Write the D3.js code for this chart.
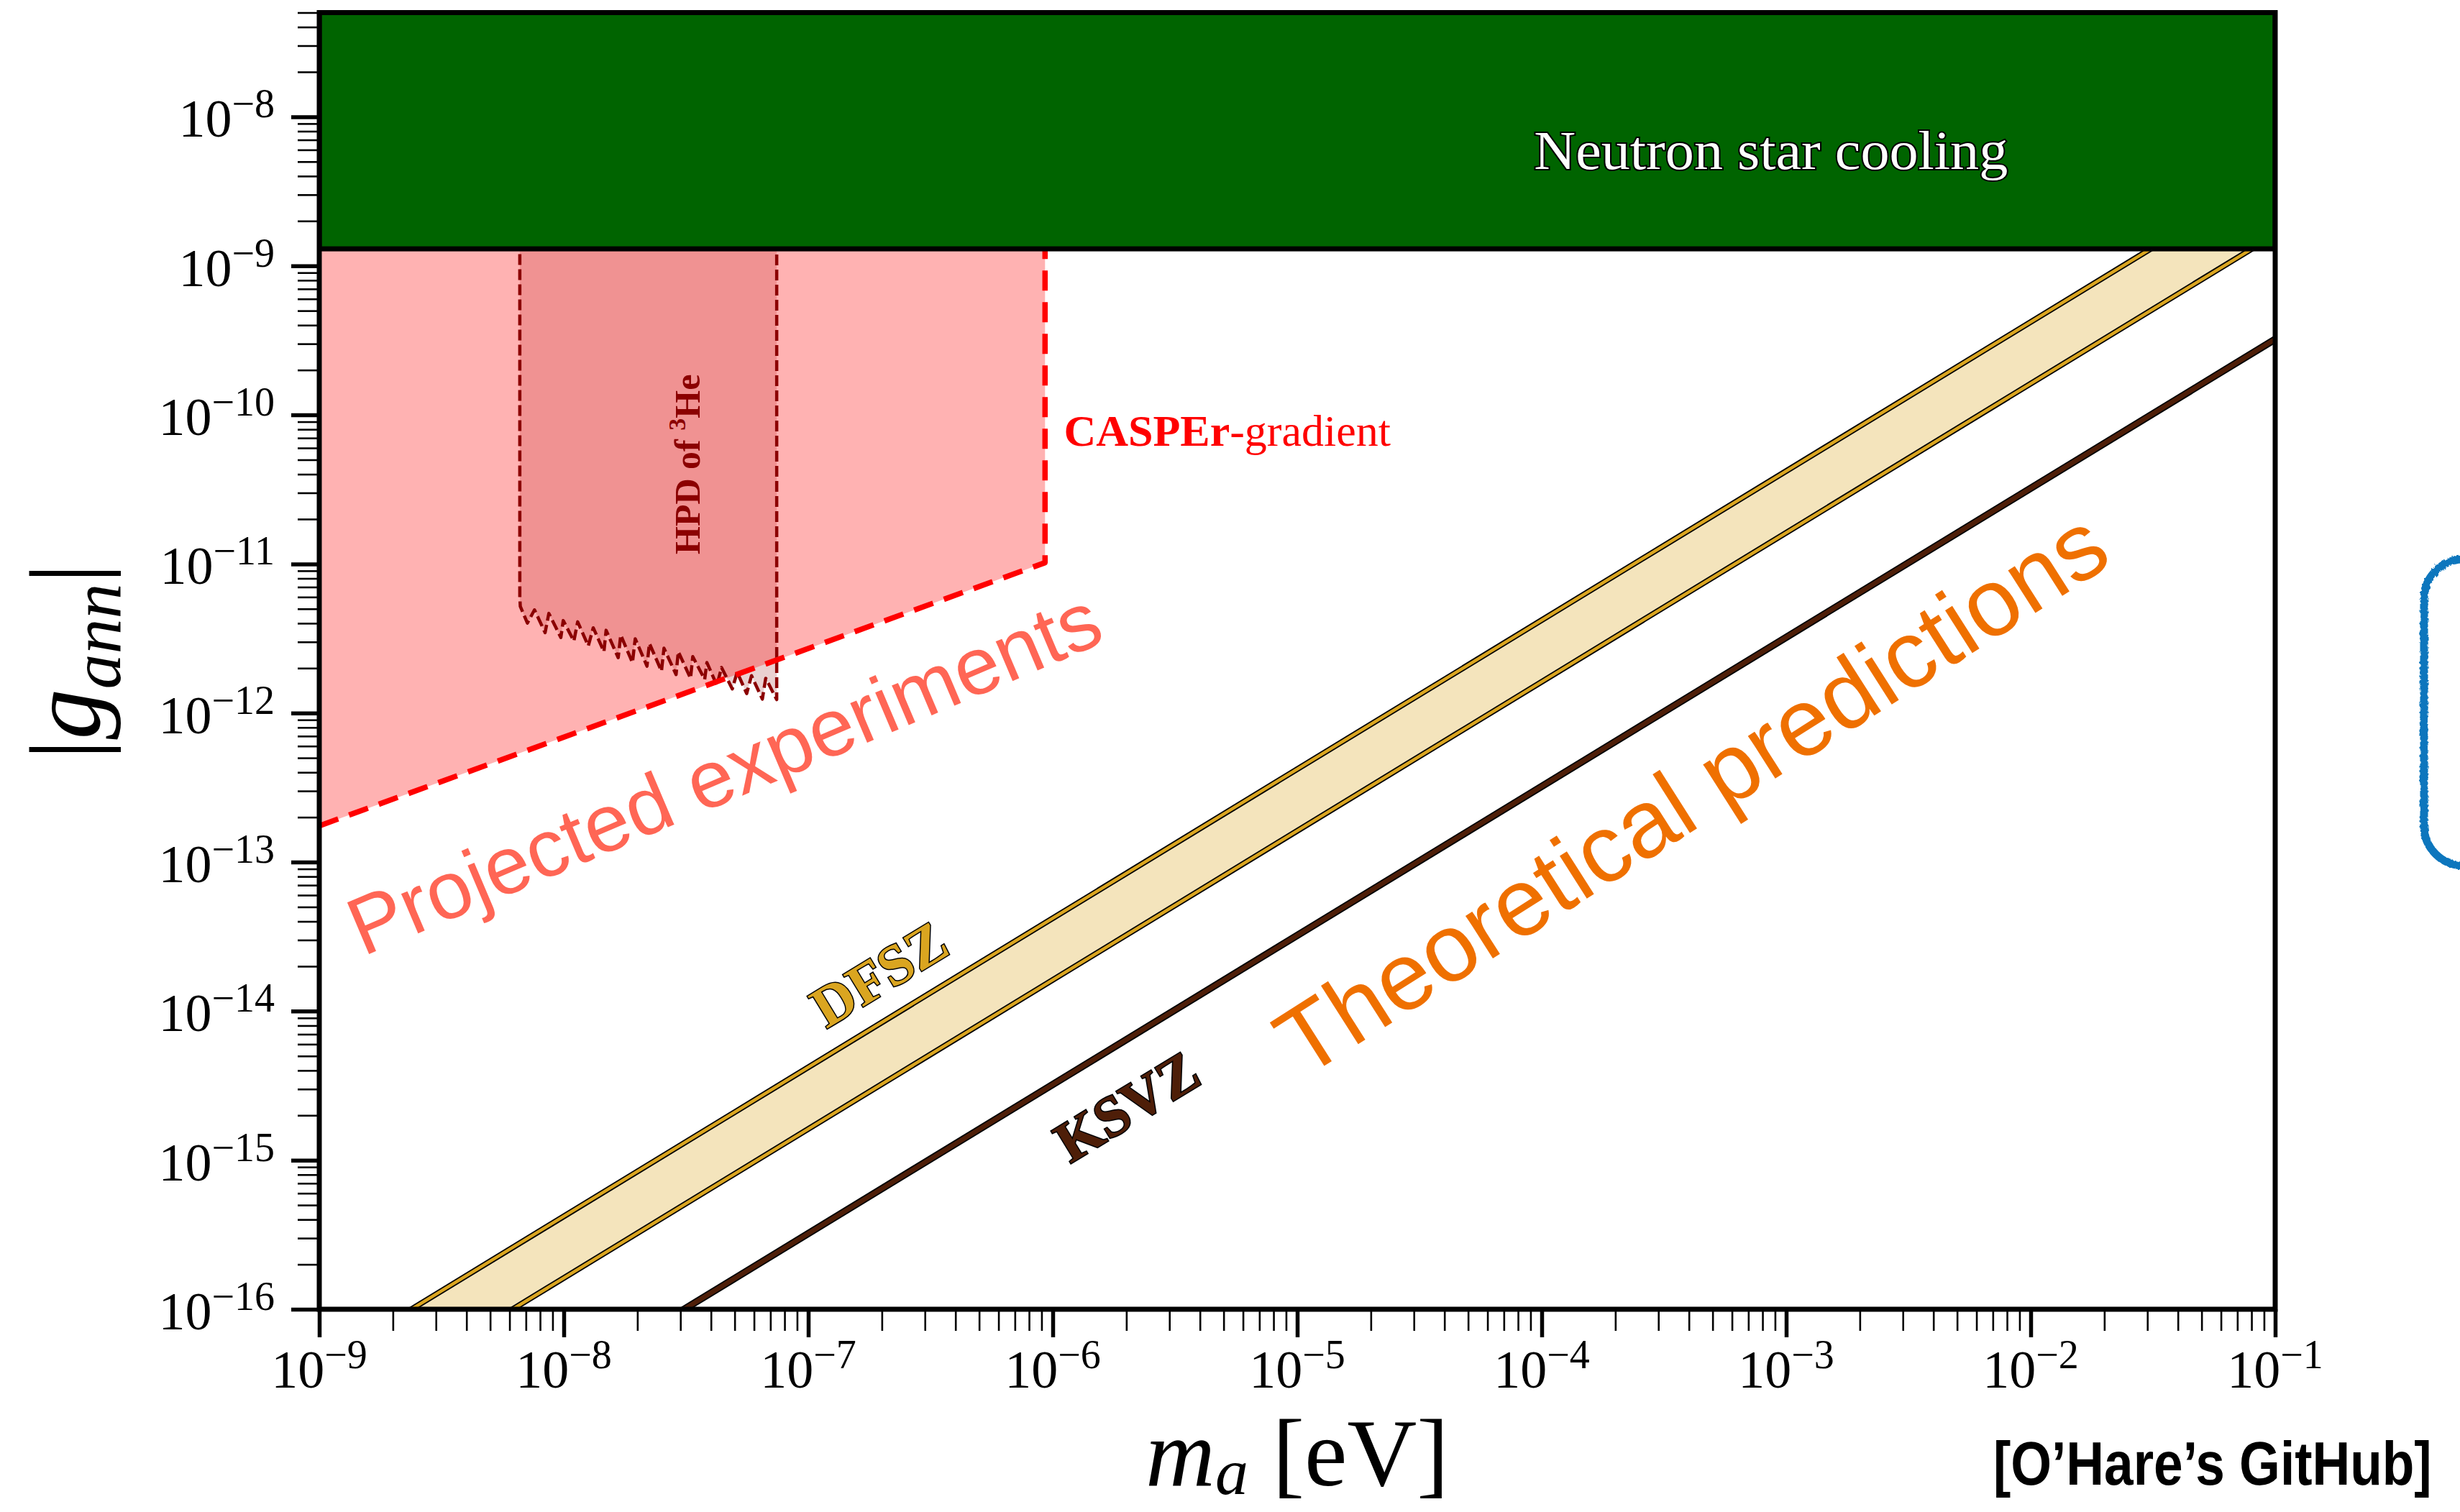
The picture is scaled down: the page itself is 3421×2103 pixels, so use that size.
<!DOCTYPE html>
<html><head><meta charset="utf-8">
<script src="https://cdn.jsdelivr.net/npm/d3@7"></script>
<style>html,body{margin:0;padding:0;background:#fff;} svg{display:block;}</style>
</head><body>
<svg id="chart" width="3421" height="2103"></svg>
<script>
// ---------------- data ----------------
const xDomain = [1e-9, 1e-1];
const yDomain = [1e-16, 5e-8];
const xTickExponents = [-9, -8, -7, -6, -5, -4, -3, -2, -1];
const yTickExponents = [-16, -15, -14, -13, -12, -11, -10, -9, -8];

// Neutron star cooling bound (g above this is excluded)
const nsCoolingLimit = 1.3e-9;

// CASPEr-gradient projection (lower edge + right edge)
const casperMass = [1e-9, 9.3e-7, 9.3e-7];
const casperG    = [1.75e-13, 1.02e-11, 1.3e-9];

// HPD of 3He projection (left edge, jagged lower edge, right edge)
const hpdMass = [6.61e-9, 6.61e-9, 6.64e-9, 7.10e-9, 7.59e-9, 8.39e-9, 8.69e-9, 9.73e-9, 9.95e-9,
  1.10e-8, 1.14e-8, 1.26e-8, 1.32e-8, 1.46e-8, 1.49e-8, 1.67e-8, 1.71e-8, 1.91e-8, 1.96e-8,
  2.19e-8, 2.24e-8, 2.51e-8, 2.57e-8, 2.88e-8, 2.94e-8, 3.30e-8, 3.37e-8, 3.77e-8, 3.85e-8,
  4.23e-8, 4.42e-8, 4.89e-8, 5.12e-8, 5.60e-8, 5.86e-8, 6.49e-8, 6.70e-8, 7.43e-8, 7.43e-8];
const hpdG = [5e-8, 6.04e-12, 5.20e-12, 4.01e-12, 4.92e-12, 3.46e-12, 4.66e-12, 3.21e-12, 4.17e-12,
  3.04e-12, 4.09e-12, 2.82e-12, 3.73e-12, 2.58e-12, 3.59e-12, 2.35e-12, 3.33e-12, 2.18e-12, 3.15e-12,
  2.06e-12, 2.93e-12, 1.91e-12, 2.72e-12, 1.81e-12, 2.58e-12, 1.71e-12, 2.39e-12, 1.68e-12, 2.18e-12,
  1.53e-12, 2.02e-12, 1.45e-12, 1.88e-12, 1.35e-12, 1.78e-12, 1.24e-12, 1.71e-12, 1.23e-12, 5e-8];

// QCD axion model lines
const modelMass  = [1e-9, 1e-1];
const dfszUpperG = [4.2e-17, 4.2e-9];
const dfszLowerG = [1.62e-17, 1.62e-9];
const ksvzG      = [3.22e-18, 3.22e-10];

// text annotations [mass, coupling]
const labelNS       = [9.3e-5, 4.48e-9];
const labelCasper   = [1.11e-6, 6.2e-11];
const labelHPD      = [3.6e-8, 4.66e-11];
const labelProj     = [1.51e-9, 2.32e-14];
const labelTheory   = [1.06e-5, 3.5e-15];
const labelDFSZ     = [1.95e-7, 1.77e-14];
const labelKSVZ     = [2.01e-6, 2.29e-15];

// ---------------- layout ----------------
const L = 444, R = 3164, T = 17.5, B = 1821;
const svg = d3.select("#chart");
const x = d3.scaleLog().domain(xDomain).range([L, R]);
const y = d3.scaleLog().domain(yDomain).range([B, T]);
const serif = "'Liberation Serif', 'Times New Roman', serif";
const sans = "'Liberation Sans', Arial, sans-serif";

const defs = svg.append("defs");
defs.append("clipPath").attr("id", "plotclip").append("rect")
  .attr("x", L).attr("y", T).attr("width", R - L).attr("height", B - T);
const rough = defs.append("filter").attr("id", "rough").attr("x", "-10%").attr("y", "-10%").attr("width", "120%").attr("height", "120%");
rough.append("feTurbulence").attr("type", "fractalNoise").attr("baseFrequency", 0.25).attr("numOctaves", 2).attr("result", "n");
rough.append("feDisplacementMap").attr("in", "SourceGraphic").attr("in2", "n").attr("scale", 5);

const line = d3.line().x(d => x(d[0])).y(d => y(d[1]));
const zip = (a, b) => a.map((v, i) => [v, b[i]]);

const g = svg.append("g").attr("clip-path", "url(#plotclip)");

// DFSZ band
const up = zip(modelMass, dfszUpperG), lo = zip(modelMass, dfszLowerG);
g.append("path").attr("d", line(up.concat(lo.slice().reverse())) + "Z")
  .attr("fill", "goldenrod").attr("fill-opacity", 0.3).attr("stroke", "none");
[up, lo].forEach(pts => {
  g.append("path").attr("d", line(pts)).attr("stroke", "#000").attr("stroke-width", 8).attr("fill", "none");
  g.append("path").attr("d", line(pts)).attr("stroke", "#DAA520").attr("stroke-width", 4.5).attr("fill", "none");
});
// KSVZ
const ks = zip(modelMass, ksvzG);
g.append("path").attr("d", line(ks)).attr("stroke", "#000").attr("stroke-width", 10).attr("fill", "none");
g.append("path").attr("d", line(ks)).attr("stroke", "#4e1e08").attr("stroke-width", 6.5).attr("fill", "none");

// HPD fill
const hpd = zip(hpdMass, hpdG);
g.append("path").attr("d", line(hpd) + "Z").attr("fill", "#8b0000").attr("fill-opacity", 0.18).attr("stroke", "none");
// CASPEr fill
const cas = zip(casperMass, casperG);
const casPoly = [[casperMass[0], yDomain[1]]].concat(cas).concat([[casperMass[2], yDomain[1]]]);
g.append("path").attr("d", line(casPoly) + "Z").attr("fill", "red").attr("fill-opacity", 0.3).attr("stroke", "none");
// HPD outline
g.append("path").attr("d", line(hpd)).attr("fill", "none").attr("stroke", "#8b0000")
  .attr("stroke-width", 4.5).attr("stroke-dasharray", "15,6").attr("stroke-linejoin", "round");
// CASPEr outline
g.append("path").attr("d", line(cas)).attr("fill", "none").attr("stroke", "red")
  .attr("stroke-width", 7.5).attr("stroke-dasharray", "28,16").attr("stroke-linejoin", "round");

// Neutron star cooling
g.append("rect").attr("x", L).attr("y", y(yDomain[1]) - 10).attr("width", R - L)
  .attr("height", y(nsCoolingLimit) - y(yDomain[1]) + 10)
  .attr("fill", "#006400").attr("stroke", "#000").attr("stroke-width", 7);

// ---------------- annotations ----------------
svg.append("text").attr("x", x(labelNS[0])).attr("y", y(labelNS[1]))
  .attr("font-family", serif).attr("font-size", 76).attr("fill", "#fff")
  .attr("stroke", "#000").attr("stroke-width", 4).style("paint-order", "stroke")
  .attr("textLength", 659).attr("lengthAdjust", "spacingAndGlyphs")
  .text("Neutron star cooling");

const ct = svg.append("text").attr("x", x(labelCasper[0])).attr("y", y(labelCasper[1]))
  .attr("font-family", serif).attr("font-size", 62).attr("fill", "red");
ct.append("tspan").attr("font-weight", "bold").text("CASPEr");
ct.append("tspan").text("-gradient");

const ht = svg.append("text")
  .attr("transform", `translate(${x(labelHPD[0])},${y(labelHPD[1])}) rotate(-90)`)
  .attr("text-anchor", "middle").attr("font-family", serif).attr("font-size", 50)
  .attr("font-weight", "bold").attr("fill", "#8b0000");
ht.append("tspan").text("HPD of ");
ht.append("tspan").attr("font-size", 34).attr("dy", -20).text("3");
ht.append("tspan").attr("dy", 20).text("He");

svg.append("text")
  .attr("transform", `translate(${x(labelProj[0])},${y(labelProj[1])}) rotate(-23)`)
  .attr("font-family", sans).attr("font-size", 113).attr("fill", "#ff6655")
  .text("Projected experiments");

svg.append("text")
  .attr("transform", `translate(${x(labelTheory[0])},${y(labelTheory[1])}) rotate(-32.5)`)
  .attr("font-family", sans).attr("font-size", 133).attr("fill", "#ef7000")
  .text("Theoretical predictions");

const lineAngle = -Math.atan2(y(dfszUpperG[0]) - y(dfszUpperG[1]), x(modelMass[1]) - x(modelMass[0])) * 180 / Math.PI;
svg.append("text")
  .attr("transform", `translate(${x(labelDFSZ[0])},${y(labelDFSZ[1])}) rotate(${lineAngle})`)
  .attr("text-anchor", "middle").attr("dominant-baseline", "central")
  .attr("font-family", serif).attr("font-weight", "bold").attr("font-size", 80)
  .attr("fill", "#DAA520").attr("stroke", "#000").attr("stroke-width", 3).style("paint-order", "stroke")
  .text("DFSZ");
svg.append("text")
  .attr("transform", `translate(${x(labelKSVZ[0])},${y(labelKSVZ[1])}) rotate(${lineAngle})`)
  .attr("text-anchor", "middle").attr("dominant-baseline", "central")
  .attr("font-family", serif).attr("font-weight", "bold").attr("font-size", 80)
  .attr("fill", "#4e1e08").attr("stroke", "#000").attr("stroke-width", 3).style("paint-order", "stroke")
  .text("KSVZ");

// ---------------- axes ----------------
const xMajor = xTickExponents.map(e => Math.pow(10, e));
const yMajor = yTickExponents.map(e => Math.pow(10, e));
const minorOf = (lo, hi) => {
  const out = [];
  for (let e = Math.floor(Math.log10(lo)); e <= Math.ceil(Math.log10(hi)); e++)
    for (let k = 2; k <= 9; k++) { const v = k * Math.pow(10, e); if (v >= lo * 0.999 && v <= hi * 1.001) out.push(v); }
  return out;
};
const xMinor = minorOf(xDomain[0], xDomain[1]);
const yMinor = minorOf(yDomain[0], yDomain[1]);

function styleAxis(sel, w) {
  sel.select(".domain").remove();
  sel.selectAll(".tick line").attr("stroke", "#000").attr("stroke-width", w);
  sel.selectAll(".tick text").remove();
}
svg.append("g").attr("transform", `translate(0,${B})`)
  .call(d3.axisBottom(x).tickValues(xMinor).tickSize(30).tickFormat("")).call(s => styleAxis(s, 2.6));
svg.append("g").attr("transform", `translate(0,${B})`)
  .call(d3.axisBottom(x).tickValues(xMajor).tickSize(39).tickFormat("")).call(s => styleAxis(s, 5.5));
svg.append("g").attr("transform", `translate(${L},0)`)
  .call(d3.axisLeft(y).tickValues(yMinor).tickSize(30).tickFormat("")).call(s => styleAxis(s, 2.6));
svg.append("g").attr("transform", `translate(${L},0)`)
  .call(d3.axisLeft(y).tickValues(yMajor).tickSize(39).tickFormat("")).call(s => styleAxis(s, 5.5));

// tick labels
function powLabel(sel, e) {
  sel.append("tspan").text("10");
  sel.append("tspan").attr("font-size", 56).attr("dy", -27).text("\u2212" + Math.abs(e));
}
xTickExponents.forEach(e => {
  svg.append("text").attr("x", x(Math.pow(10, e))).attr("y", B + 109)
    .attr("text-anchor", "middle").attr("font-family", serif).attr("font-size", 74)
    .call(s => powLabel(s, e));
});
yTickExponents.forEach(e => {
  svg.append("text").attr("x", L - 62).attr("y", y(Math.pow(10, e)) + 28)
    .attr("text-anchor", "end").attr("font-family", serif).attr("font-size", 74)
    .call(s => powLabel(s, e));
});

// spines
svg.append("rect").attr("x", L).attr("y", T).attr("width", R - L).attr("height", B - T)
  .attr("fill", "none").attr("stroke", "#000").attr("stroke-width", 7);

// axis titles
const xl = svg.append("text").attr("x", (L + R) / 2).attr("y", 2066).attr("text-anchor", "middle")
  .attr("font-family", serif).attr("font-size", 134);
xl.append("tspan").attr("font-style", "italic").text("m");
xl.append("tspan").attr("font-style", "italic").attr("font-size", 92).attr("dy", 12).text("a");
xl.append("tspan").attr("dy", -12).text("\u00a0[eV]");

const yl = svg.append("text").attr("transform", "translate(138,920) rotate(-90)")
  .attr("text-anchor", "middle").attr("font-family", serif).attr("font-size", 140);
yl.append("tspan").text("|");
yl.append("tspan").attr("font-style", "italic").text("g");
yl.append("tspan").attr("font-style", "italic").attr("font-size", 98).attr("dy", 29).text("ann");
yl.append("tspan").attr("dy", -29).text("|");

// credit (condensed bold sans)
svg.append("g").attr("transform", "translate(2772,2065) scale(1,1.17)")
  .append("text").attr("x", 0).attr("y", 0).attr("font-family", sans)
  .attr("font-weight", "bold").attr("font-size", 73)
  .text("[O\u2019Hare\u2019s GitHub]");

// blue bracket shape at right edge
svg.append("rect").attr("x", 3371).attr("y", 778).attr("width", 200).attr("height", 426)
  .attr("rx", 55).attr("ry", 55).attr("fill", "none")
  .attr("stroke", "#0a76bd").attr("stroke-width", 11).attr("filter", "url(#rough)");
</script>
</body></html>
